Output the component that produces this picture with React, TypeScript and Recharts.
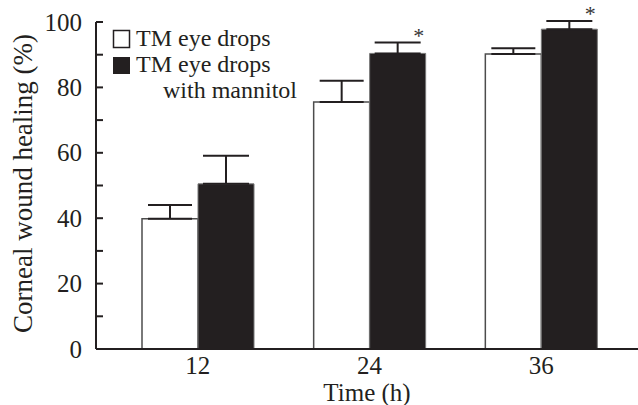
import React from "react";
import { BarChart, Bar, XAxis, YAxis, ErrorBar, Legend, LabelList, Label } from "recharts";

const categories = ["12", "24", "36"];
const tmMeans = [39.8, 75.5, 90.2];
const tmErrors = [4.2, 6.5, 1.8];
const mannitolMeans = [50.5, 90.4, 97.8];
const mannitolErrors = [8.6, 3.3, 2.5];
const significant = [false, true, true];
const yTicks = [0, 10, 20, 30, 40, 50, 60, 70, 80, 90, 100];
const yLabelTicks = [0, 20, 40, 60, 80, 100];

const INK = "#231f20";
const FONT = "'Liberation Serif', 'Times New Roman', serif";

const data = categories.map((time, i) => ({
  time,
  tm: tmMeans[i],
  tmErr: [0, tmErrors[i]],
  man: mannitolMeans[i],
  manErr: [0, mannitolErrors[i]],
  sig: significant[i],
}));

function YTick(props: any) {
  const { x, y, payload } = props;
  const show = yLabelTicks.includes(payload.value);
  return (
    <g>
      <line x1={x} x2={x + 7} y1={y} y2={y} stroke={INK} strokeWidth={2} />
      {show && (
        <text x={x - 14} y={y} dy="0.34em" textAnchor="end" fontSize={25} fontFamily={FONT} fill={INK}>
          {payload.value}
        </text>
      )}
    </g>
  );
}

function XTick(props: any) {
  const { x, y, payload } = props;
  return (
    <text x={x} y={y + 25} textAnchor="middle" fontSize={25} fontFamily={FONT} fill={INK}>
      {payload.value}
    </text>
  );
}

function Star(props: any) {
  const { x, y, width, height, value, index } = props;
  if (!data[index].sig || !value) return null;
  const pxPerUnit = height / value;
  const errTop = y - mannitolErrors[index] * pxPerUnit;
  return (
    <text x={x + width - 7} y={errTop - 12} dy="0.55em" textAnchor="middle" fontSize={22} fontFamily={FONT} fill="#333">
      *
    </text>
  );
}

function renderLegend() {
  return (
    <svg width={320} height={110} style={{ display: "block" }}>
      <rect x={113.5} y={30.5} width={16} height={17} fill="#fff" stroke={INK} strokeWidth={1.5} />
      <text x={136} y={46} fontSize={24} fontFamily={FONT} fill={INK}>TM eye drops</text>
      <rect x={113} y={57} width={17} height={17} fill={INK} />
      <text x={136} y={72} fontSize={24} fontFamily={FONT} fill={INK}>TM eye drops</text>
      <text x={163} y={98} fontSize={24} fontFamily={FONT} fill={INK}>with mannitol</text>
    </svg>
  );
}

export default function App() {
  return (
    <div style={{ position: "absolute", left: 0, top: 0, background: "#fff" }}>
      <BarChart
        width={638}
        height={405}
        data={data}
        margin={{ top: 22, right: 0, left: 0, bottom: 0 }}
        barSize={56}
        barGap={0}
      >
        <XAxis
          dataKey="time"
          height={56}
          padding={{ left: 16, right: 11 }}
          tick={<XTick />}
          tickLine={false}
          tickSize={0}
          tickMargin={0}
          axisLine={{ stroke: INK, strokeWidth: 2 }}
        >
          <Label value="Time (h)" position="insideBottom" offset={4} fontSize={25} fontFamily={FONT} fill={INK} />
        </XAxis>
        <YAxis
          width={96}
          domain={[0, 100]}
          ticks={yTicks}
          interval={0}
          allowDataOverflow
          tick={<YTick />}
          tickLine={false}
          tickSize={0}
          tickMargin={0}
          axisLine={{ stroke: INK, strokeWidth: 2 }}
        >
          <Label
            content={(p: any) => {
              const vb = p.viewBox || { y: 22, height: 327 };
              const cy = vb.y + vb.height / 2 - 2;
              return (
                <text
                  transform={`translate(24, ${cy}) rotate(-90)`}
                  textAnchor="middle"
                  dy="0.3em"
                  fontSize={27}
                  fontFamily={FONT}
                  fill={INK}
                >
                  Corneal wound healing (%)
                </text>
              );
            }}
          />
        </YAxis>
        <Legend
          layout="vertical"
          align="center"
          verticalAlign="middle"
          wrapperStyle={{ position: "absolute", left: 0, top: 0, width: 320, height: 110 }}
          content={renderLegend}
        />
        <Bar dataKey="tm" fill="#fff" stroke="#4d4d4d" strokeWidth={1.5} isAnimationActive={false}>
          <ErrorBar dataKey="tmErr" width={22} stroke={INK} strokeWidth={2} direction="y" />
        </Bar>
        <Bar dataKey="man" fill={INK} stroke="#777" strokeWidth={1} isAnimationActive={false}>
          <ErrorBar dataKey="manErr" width={23} stroke={INK} strokeWidth={2} direction="y" />
          <LabelList dataKey="man" content={<Star />} />
        </Bar>
      </BarChart>
    </div>
  );
}
